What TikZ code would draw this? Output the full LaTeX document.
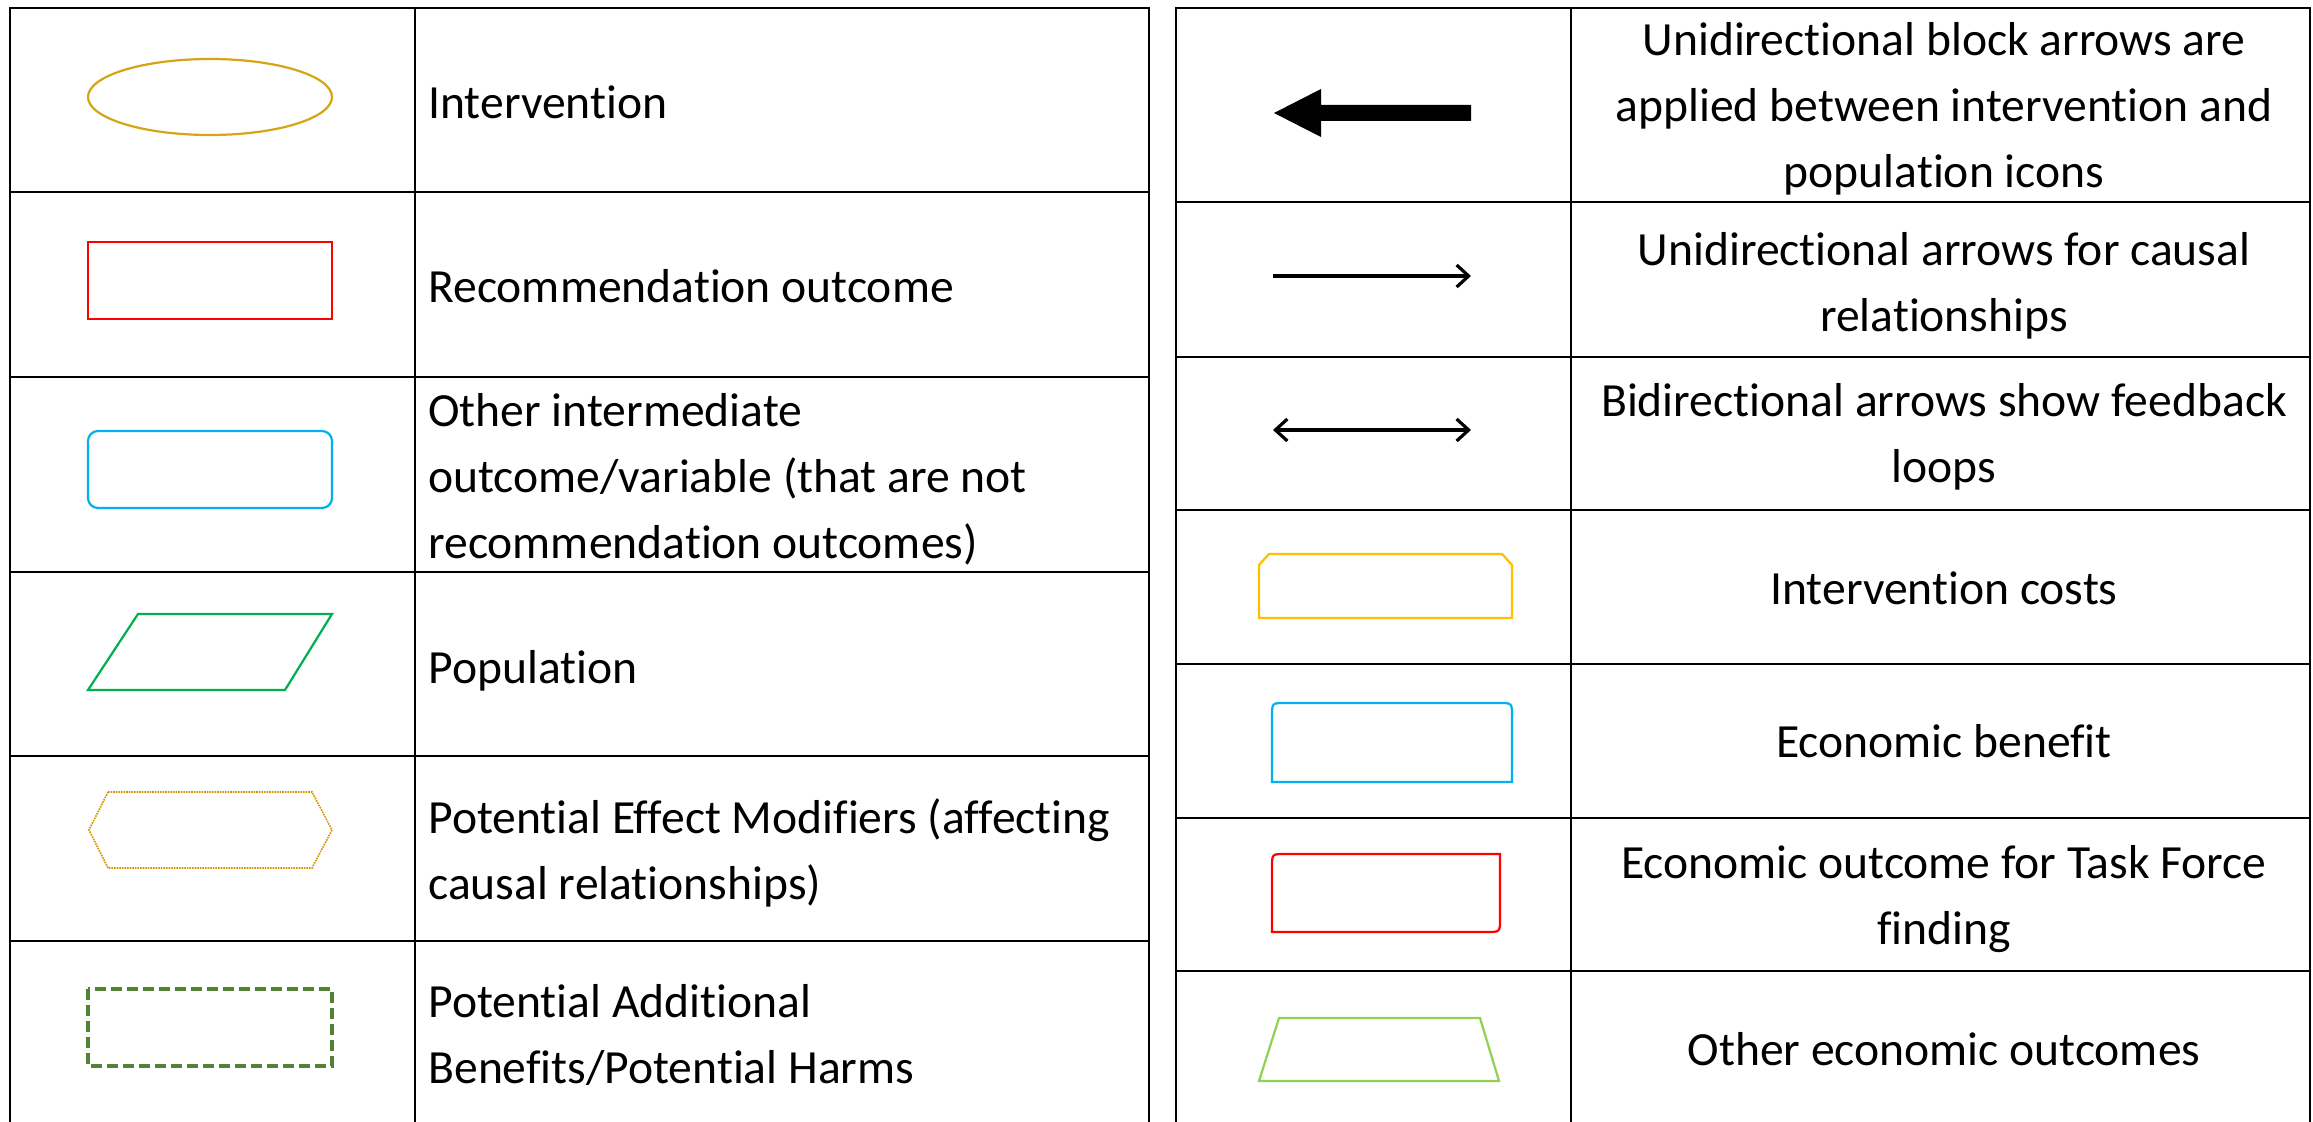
\documentclass[tikz,border=0pt]{standalone}
\usepackage{fontspec}
\setmainfont{Carlito}[Ligatures=NoCommon]
\usetikzlibrary{arrows.meta}
\definecolor{intcol}{RGB}{214,165,20}
\definecolor{recred}{RGB}{255,0,0}
\definecolor{midblue}{RGB}{0,176,240}
\definecolor{popgreen}{RGB}{0,176,80}
\definecolor{modgold}{RGB}{215,150,0}
\definecolor{harmgreen}{RGB}{84,130,53}
\definecolor{costyel}{RGB}{255,192,0}
\definecolor{othgreen}{RGB}{146,208,80}
\tikzset{
  grid/.style={line width=1.4pt, black},
  lbl/.style={font=\fontsize{23.8}{33}\selectfont, inner sep=0pt},
  lleft/.style={lbl, anchor=base west, align=left},
  lright/.style={lbl, anchor=base, align=center},
  shp/.style={line width=1.1pt},
  thinarr/.style={line width=1.6pt, black},
}
\begin{document}
\begin{tikzpicture}[x=0.5pt,y=-0.5pt]
\useasboundingbox (0,0) rectangle (2313,1122);
\fill[white] (0,0) rectangle (2313,1122);
% left table
\draw[grid] (10,1140) -- (10,8) -- (1149,8) -- (1149,1140);
\draw[grid] (415,8) -- (415,1140);
\foreach \yy in {192,377,572,756,941} \draw[grid] (10,\yy) -- (1149,\yy);
% right table
\draw[grid] (1176,1140) -- (1176,8) -- (2310,8) -- (2310,1140);
\draw[grid] (1571,8) -- (1571,1140);
\foreach \yy in {202,357,510,664,818,971} \draw[grid] (1176,\yy) -- (2310,\yy);

% left shapes
\draw[shp, intcol] (210,97) ellipse [x radius=122, y radius=38];
\draw[shp, recred] (88,242) rectangle (332,319);
\draw[shp, midblue, rounded corners=5pt] (88,431) rectangle (332,508);
\draw[shp, popgreen] (138,614) -- (332,614) -- (285,690) -- (88,690) -- cycle;
\draw[line width=0.8pt, modgold, dash pattern=on 0.8pt off 0.5pt] (108,792) -- (312,792) -- (332,830) -- (312,868) -- (108,868) -- (89,830) -- cycle;
\draw[line width=1.6pt, harmgreen, dash pattern=on 5.5pt off 2.5pt] (88,989) rectangle (332,1066);

% left texts (multi-line nodes: base = last line)
\node[lleft] (t1) at (428,119) {Intervention};
\node[lleft] (t2) at (428,303) {Recommendation outcome};
\node[lleft] (t3) at (428,559) {Other intermediate\\outcome/variable (that are not\\recommendation outcomes)};
\node[lleft] (t4) at (428,683) {Population};
\node[lleft] (t5) at (428,899) {Potential Effect Modifiers (affecting\\causal relationships)};
\node[lleft] (t6) at (428,1083) {Potential Additional\\Benefits/Potential Harms};

% right shapes
\fill[black] (1274,113) -- (1321,89) -- (1321,105) -- (1471,105) -- (1471,121) -- (1321,121) -- (1321,137) -- cycle;
\coordinate (a1s) at (1273,276);
\coordinate (a1e) at (1471,276);
\draw[thinarr, -{Straight Barb[length=6pt,width=11pt]}] (a1s) -- (a1e);
\coordinate (a2s) at (1273,430);
\coordinate (a2e) at (1471,430);
\draw[thinarr, {Straight Barb[length=6pt,width=11pt]}-{Straight Barb[length=6pt,width=11pt]}] (a2s) -- (a2e);
\draw[shp, costyel] (1259,618) -- (1259,565) -- (1269,554) -- (1502,554) -- (1512,565) -- (1512,618) -- cycle;
\draw[shp, midblue] (1272,782) -- (1272,716) .. controls (1272,703) .. (1285,703) -- (1499,703) .. controls (1512,703) .. (1512,716) -- (1512,782) -- cycle;
\draw[shp, recred] (1272,932) -- (1272,867) .. controls (1272,854) .. (1285,854) -- (1500,854) -- (1500,919) .. controls (1500,932) .. (1487,932) -- cycle;
\draw[shp, othgreen] (1279,1018) -- (1480,1018) -- (1499,1081) -- (1259,1081) -- cycle;

% right texts
\node[lright] (r1) at (1944,188) {Unidirectional block arrows are\\applied between intervention and\\population icons};
\node[lright] (r2) at (1944,332) {Unidirectional arrows for causal\\relationships};
\node[lright] (r3) at (1944,483) {Bidirectional arrows show feedback\\loops};
\node[lright] (r4) at (1944,605) {Intervention costs};
\node[lright] (r5) at (1944,757) {Economic benefit};
\node[lright] (r6) at (1944,944) {Economic outcome for Task Force\\finding};
\node[lright] (r7) at (1944,1065) {Other economic outcomes};
\end{tikzpicture}
\end{document}
